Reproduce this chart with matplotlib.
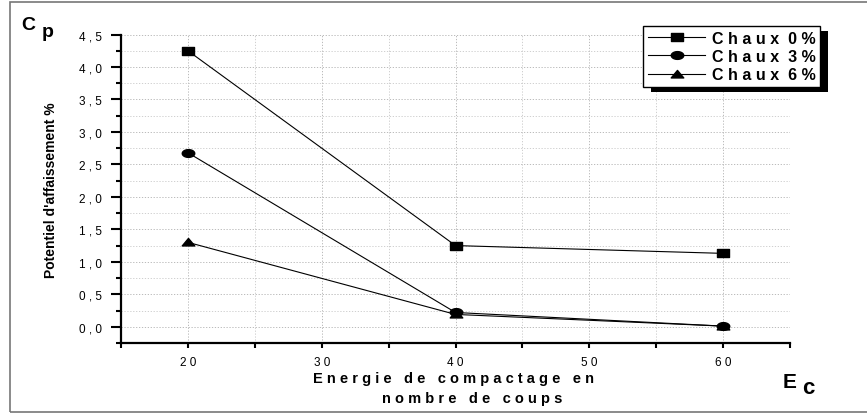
import matplotlib.pyplot as plt
import numpy as np
from matplotlib.path import Path
from matplotlib.patches import Rectangle
from matplotlib.ticker import MultipleLocator, FuncFormatter
from matplotlib.lines import Line2D

plt.rcParams['font.family'] = ['Liberation Sans', 'DejaVu Sans']

# data
energie = [20, 40, 60]
chaux_0 = [4.25, 1.25, 1.13]
chaux_3 = [2.68, 0.22, 0.01]
chaux_6 = [1.30, 0.19, 0.01]
series_labels = ["Chaux 0%", "Chaux 3%", "Chaux 6%"]


def spaced(s, gap="  "):
    # letters spread apart, words further apart
    return gap.join(" ".join(w) for w in s.split(" "))


# markers are stretched sideways in the reference
def wide_marker(kind):
    if kind == 's':
        verts = [(-1, -0.62), (1, -0.62), (1, 0.62), (-1, 0.62), (-1, -0.62)]
        return Path(verts, closed=True)
    if kind == 'o':
        t = np.linspace(0, 2 * np.pi, 40)
        return Path(np.column_stack([np.cos(t), 0.62 * np.sin(t)]), closed=True)
    verts = [(-1, -0.55), (1, -0.55), (0, 0.65), (-1, -0.55)]
    return Path(verts, closed=True)


markers = [wide_marker('s'), wide_marker('o'), wide_marker('^')]

fig = plt.figure(figsize=(8.67, 4.14), dpi=100)
ax = fig.add_axes([121 / 867, 1 - 344 / 414, 669 / 867, (344 - 35.5) / 414])

for ys, m in zip([chaux_0, chaux_3, chaux_6], markers):
    ax.plot(energie, ys, color='black', lw=0.8, marker=m, markersize=9,
            markerfacecolor='black', markeredgecolor='black', clip_on=False, zorder=3)

ax.set_xlim(15, 65)
ax.set_ylim(-0.25, 4.5)
ax.xaxis.set_major_locator(MultipleLocator(10))
ax.xaxis.set_minor_locator(MultipleLocator(5))
ax.yaxis.set_major_locator(MultipleLocator(0.5))
ax.yaxis.set_minor_locator(MultipleLocator(0.25))

ax.xaxis.set_major_formatter(FuncFormatter(
    lambda v, p: " ".join(f"{v:.0f}") if 20 <= v <= 60 else ""))
ax.yaxis.set_major_formatter(FuncFormatter(
    lambda v, p: " ".join(f"{v:.1f}".replace('.', ',')) if v >= 0 else ""))

ax.spines['top'].set_visible(False)
ax.spines['right'].set_visible(False)
ax.spines['left'].set_linewidth(1.6)
ax.spines['bottom'].set_linewidth(1.6)
ax.tick_params(axis='y', which='major', direction='out', length=7, width=1.5,
               labelsize=8.5, pad=7, colors='black')
ax.tick_params(axis='y', which='minor', direction='out', length=3.5, width=1.5)
ax.tick_params(axis='x', which='both', direction='out', length=3.5, width=1.5,
               labelsize=8.5, pad=6)

ax.grid(True, which='major', ls=(0, (1.5, 2)), color='#b0b0b0', lw=0.6)
ax.grid(True, which='minor', ls=(0, (1.5, 2)), color='#c8c8c8', lw=0.6)
ax.set_axisbelow(True)

ax.set_ylabel("Potentiel d'affaissement %", fontsize=10, fontweight='bold', labelpad=15)

fig.text(454 / 867, 1 - 383 / 414, spaced("Energie de compactage en", "   "),
         ha='center', va='baseline', fontsize=10.5, fontweight='bold')
fig.text(472 / 867, 1 - 403 / 414, spaced("nombre de coups", "   "),
         ha='center', va='baseline', fontsize=10.5, fontweight='bold')

fig.text(21 / 867, 1 - 29.5 / 414, "C", fontsize=14, fontweight='bold', va='baseline')
fig.text(42 / 867, 1 - 37 / 414, "p", fontsize=14, fontweight='bold', va='baseline')
fig.text(783 / 867, 1 - 388 / 414, "E", fontsize=15, fontweight='bold', va='baseline')
fig.text(802 / 867, 1 - 394 / 414, "c", fontsize=16, fontweight='bold', va='baseline')

handles = [Line2D([], [], color='black', lw=0.8, marker=m, markersize=9,
                  markerfacecolor='black') for m in markers]
leg = fig.legend(handles, [spaced(s) for s in series_labels],
                 loc='upper left', bbox_to_anchor=(643 / 867, 1 - 27 / 414),
                 prop={'size': 11.5, 'weight': 'bold'}, frameon=True, fancybox=False,
                 handlelength=3.6, handletextpad=0.4, borderpad=0.3,
                 labelspacing=0.2, borderaxespad=0)
leg.get_frame().set_edgecolor('black')
leg.get_frame().set_linewidth(1.0)
leg.get_frame().set_alpha(1)

fig.canvas.draw()
bb = leg.get_window_extent()
fig.patches.append(Rectangle((bb.x0 + 8, bb.y0 - 5), bb.width, bb.height,
                             transform=None, facecolor='black', edgecolor='none',
                             zorder=4, figure=fig))

fig.patches.append(Rectangle((9.5, 1.5), 870, 409.5, transform=None,
                             facecolor='none', edgecolor='#777777', lw=1.2,
                             zorder=0, figure=fig))

fig.savefig('out.png', dpi=100)
